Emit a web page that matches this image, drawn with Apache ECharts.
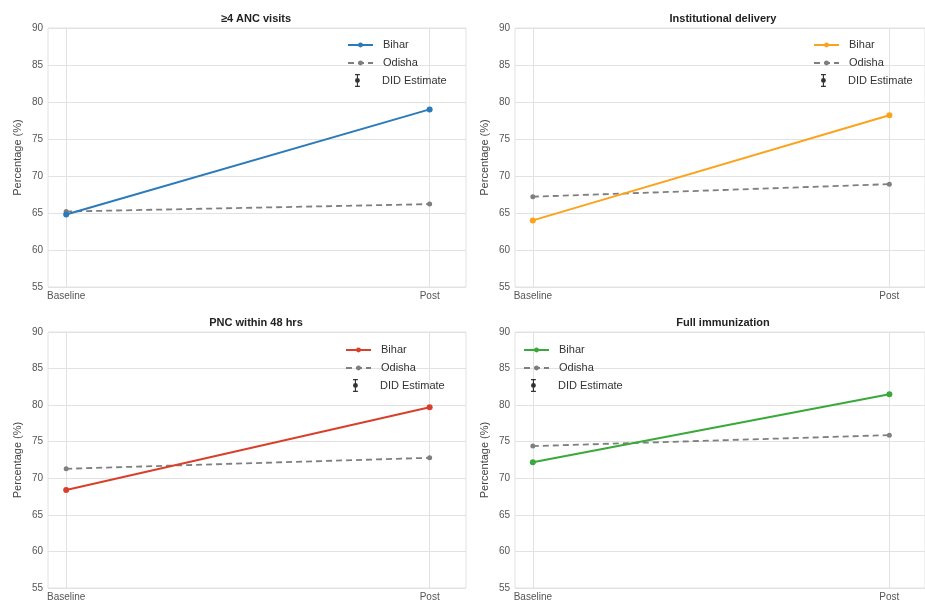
<!DOCTYPE html>
<html>
<head>
<meta charset="utf-8">
<script src="https://cdn.jsdelivr.net/npm/echarts@6/dist/echarts.min.js"></script>
<style>
  html, body { margin: 0; padding: 0; background: #fff; }
  #chart { width: 925px; height: 602px; }
</style>
</head>
<body>
<div id="chart"></div>
<script>
  // data
  var categories = ['Baseline', 'Post'];
  var panelTitles = ['≥4 ANC visits', 'Institutional delivery', 'PNC within 48 hrs', 'Full immunization'];
  var biharValues = [
    [64.8, 79.0],
    [64.0, 78.2],
    [68.4, 79.7],
    [72.2, 81.5]
  ];
  var odishaValues = [
    [65.2, 66.2],
    [67.2, 68.9],
    [71.3, 72.8],
    [74.4, 75.9]
  ];
  var yTicks = { min: 55, max: 90, step: 5 };
  var legendNames = ['Bihar', 'Odisha', 'DID Estimate'];

  // layout / style
  var biharColors = ['#2b7bba', '#fba31c', '#d8402b', '#3aa83a'];
  var odishaColor = '#7f7f7f';
  var gridColor = '#e2e2e2';
  var font = 'Liberation Sans, Arial, sans-serif';
  var panels = [
    { left: 48, top: 28, height: 259, legendLeft: 342, legendTop: 34 },
    { left: 515, top: 28, height: 259, legendLeft: 808, legendTop: 34 },
    { left: 48, top: 332, height: 258, legendLeft: 340, legendTop: 339 },
    { left: 515, top: 332, height: 258, legendLeft: 518, legendTop: 339 }
  ];
  var panelWidth = 418;
  var didIcon = 'path://M3,0h6v1.4h-6zM5.3,0h1.4v16h-1.4zM3,14.6h6v1.4h-6zM6,5a3,3 0 1 1 0,6a3,3 0 1 1 0,-6z';

  function toPoints(values) {
    return values.map(function (v, i) { return [i, v]; });
  }

  var grids = [], xAxes = [], yAxes = [], series = [], titles = [], legends = [];
  var stripSuffix = function (name) { return name.split('|')[0]; };

  panels.forEach(function (p, k) {
    grids.push({
      left: p.left, top: p.top, width: panelWidth, height: p.height,
      show: true, backgroundColor: '#fff', borderColor: gridColor, borderWidth: 1
    });
    xAxes.push({
      gridIndex: k,
      type: 'value',
      min: -0.05,
      max: 1.1,
      axisLine: { show: false },
      axisTick: { show: false, customValues: [0, 1] },
      axisLabel: {
        customValues: [0, 1],
        color: '#555', fontSize: 10, fontFamily: font, margin: 4,
        formatter: function (v) { return categories[Math.round(v)]; }
      },
      splitLine: { show: true, lineStyle: { color: gridColor, width: 1 } }
    });
    yAxes.push({
      gridIndex: k,
      type: 'value',
      min: yTicks.min,
      max: yTicks.max,
      interval: yTicks.step,
      name: 'Percentage (%)',
      nameLocation: 'middle',
      nameGap: 25,
      nameTextStyle: { color: '#444', fontSize: 11, fontFamily: font },
      axisLine: { show: false },
      axisTick: { show: false },
      axisLabel: { color: '#555', fontSize: 10, fontFamily: font, margin: 5 },
      splitLine: { lineStyle: { color: gridColor, width: 1 } }
    });
    titles.push({
      text: panelTitles[k],
      left: p.left + panelWidth / 2 - 6,
      top: p.top - 20,
      textAlign: 'center',
      textStyle: { fontSize: 11, fontWeight: 'bold', color: '#222', fontFamily: font }
    });

    var suffix = '|' + k;
    series.push({
      name: legendNames[0] + suffix,
      type: 'line',
      xAxisIndex: k, yAxisIndex: k,
      data: toPoints(biharValues[k]),
      symbol: 'circle', symbolSize: 6,
      lineStyle: { color: biharColors[k], width: 2 },
      itemStyle: { color: biharColors[k] },
      z: 3
    });
    series.push({
      name: legendNames[1] + suffix,
      type: 'line',
      xAxisIndex: k, yAxisIndex: k,
      data: toPoints(odishaValues[k]),
      symbol: 'circle', symbolSize: 5,
      lineStyle: { color: odishaColor, width: 1.8, type: [6, 4] },
      itemStyle: { color: odishaColor },
      z: 2
    });
    series.push({
      name: legendNames[2] + suffix,
      type: 'scatter',
      xAxisIndex: k, yAxisIndex: k,
      data: [],
      itemStyle: { color: '#000' }
    });

    // lines legend (small markers)
    legends.push({
      orient: 'vertical',
      left: p.legendLeft,
      top: p.legendTop,
      itemWidth: 25,
      itemHeight: 6,
      itemGap: 6,
      selectedMode: false,
      textStyle: { color: '#333', fontSize: 11, lineHeight: 12, fontFamily: font, padding: [0, 0, 0, 5] },
      formatter: stripSuffix,
      data: [{ name: legendNames[0] + suffix }, { name: legendNames[1] + suffix }]
    });
    // DID estimate legend (error bar glyph)
    legends.push({
      orient: 'vertical',
      left: p.legendLeft + 8,
      top: p.legendTop + 35,
      itemWidth: 25,
      itemHeight: 13,
      selectedMode: false,
      textStyle: { color: '#333', fontSize: 11, lineHeight: 12, fontFamily: font, padding: [0, 0, 0, 7] },
      formatter: stripSuffix,
      data: [{ name: legendNames[2] + suffix, icon: didIcon }]
    });
  });

  var chart = echarts.init(document.getElementById('chart'));
  chart.setOption({
    animation: false,
    backgroundColor: '#fff',
    title: titles,
    legend: legends,
    grid: grids,
    xAxis: xAxes,
    yAxis: yAxes,
    series: series
  });
</script>
</body>
</html>
